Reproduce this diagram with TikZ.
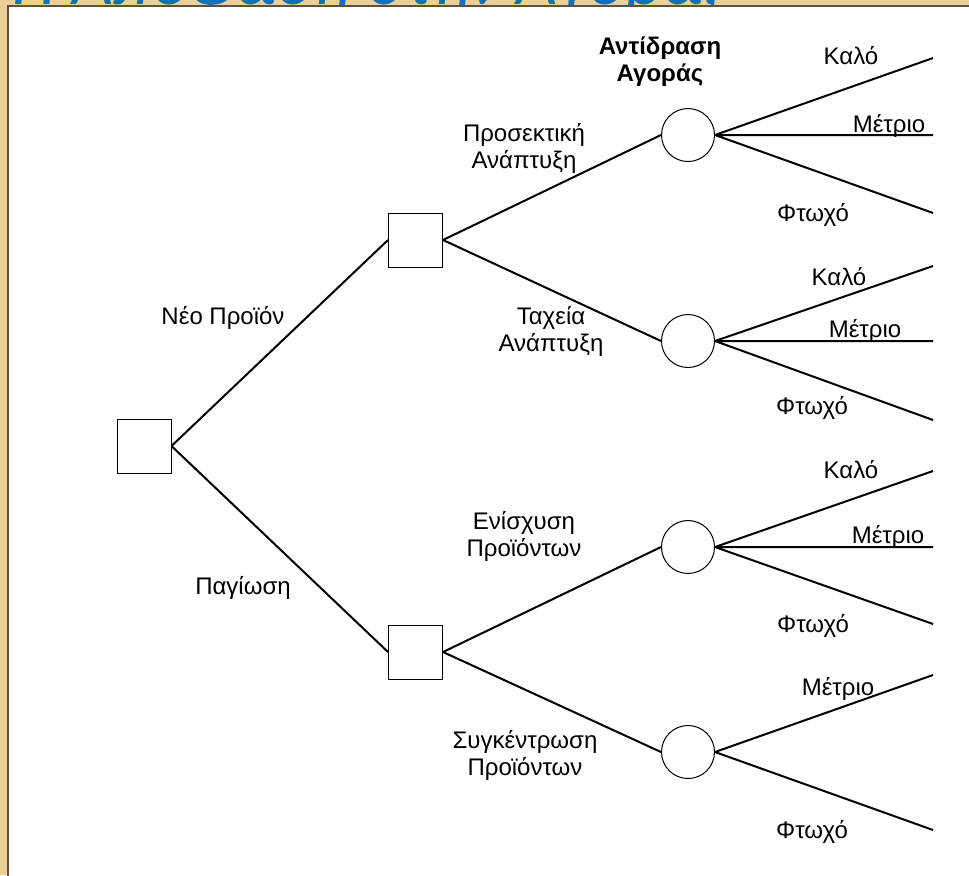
\documentclass[tikz,border=0pt]{standalone}
\usepackage{fontspec}
\setmainfont{Liberation Sans}
\newfontfamily\titlefont{Carlito}
\definecolor{parchment}{RGB}{234,207,152}
\definecolor{panelline}{RGB}{92,81,64}
\definecolor{titleblue}{RGB}{16,112,192}

\begin{document}
\begin{tikzpicture}[x=0.5pt,y=-0.5pt,
    decision/.style={draw,rectangle,minimum size=27pt,inner sep=0pt,line width=0.5pt},
    chance/.style={draw,circle,minimum size=26.5pt,inner sep=0pt,line width=0.5pt},
    branch/.style={line width=1pt},
    lbl/.style={inner sep=0pt,align=center,font=\fontsize{12}{13.5}\selectfont}]
\useasboundingbox (0,0) rectangle (969,875);
\clip (0,0) rectangle (969,875);
% slide background, title and white panel
\fill[parchment] (0,0) rectangle (969,875);
\node[anchor=base west,inner sep=0pt,text=titleblue,font=\titlefont\itshape\fontsize{35.5}{40}\selectfont] (title) at (12,4) {Η Απόφαση στην Αγορά;};
\draw[panelline,fill=white,line width=1pt] (8,6) rectangle (990,900);
% decision and chance nodes
\node[decision] (root) at (144,446) {};
\node[decision] (d1) at (415.5,240) {};
\node[decision] (d2) at (415.5,652) {};
\node[chance] (c1) at (688,135) {};
\node[chance] (c2) at (688,341) {};
\node[chance] (c3) at (688,547) {};
\node[chance] (c4) at (688,752) {};
% end points of the outcome branches
\coordinate (c1good) at (933,58);  \coordinate (c1avg) at (933,135); \coordinate (c1poor) at (933,213);
\coordinate (c2good) at (933,266); \coordinate (c2avg) at (933,341); \coordinate (c2poor) at (933,420);
\coordinate (c3good) at (933,471); \coordinate (c3avg) at (933,547); \coordinate (c3poor) at (933,624);
\coordinate (c4avg) at (933,675);  \coordinate (c4poor) at (933,830);
% branches
\draw[branch] (root.east) -- (d1.west) (root.east) -- (d2.west)
    (d1.east) -- (c1.west) (d1.east) -- (c2.west)
    (d2.east) -- (c3.west) (d2.east) -- (c4.west);
\draw[branch] (c1.east) -- (c1good) (c1.east) -- (c1avg) (c1.east) -- (c1poor)
    (c2.east) -- (c2good) (c2.east) -- (c2avg) (c2.east) -- (c2poor)
    (c3.east) -- (c3good) (c3.east) -- (c3avg) (c3.east) -- (c3poor)
    (c4.east) -- (c4avg) (c4.east) -- (c4poor);
% labels
\node[lbl,font=\bfseries\fontsize{12}{13.5}\selectfont] (market) at (660,62) {Αντίδραση\\Αγοράς};
\node[lbl] (lnew) at (223,318) {Νέο Προϊόν};
\node[lbl] (lhold) at (243,588) {Παγίωση};
\node[lbl] (lcare) at (524,148) {Προσεκτική\\Ανάπτυξη};
\node[lbl] (lfast) at (551,331) {Ταχεία\\Ανάπτυξη};
\node[lbl] (lboost) at (524,536) {Ενίσχυση\\Προϊόντων};
\node[lbl] (lfocus) at (525,755) {Συγκέντρωση\\Προϊόντων};
\node[lbl] (l1good) at (851,56) {Καλό};
\node[lbl] (l1avg) at (889,126) {Μέτριο};
\node[lbl] (l1poor) at (813,215) {Φτωχό};
\node[lbl] (l2good) at (839,277) {Καλό};
\node[lbl] (l2avg) at (865,331) {Μέτριο};
\node[lbl] (l2poor) at (812,408) {Φτωχό};
\node[lbl] (l3good) at (851,470) {Καλό};
\node[lbl] (l3avg) at (888,537) {Μέτριο};
\node[lbl] (l3poor) at (813,626) {Φτωχό};
\node[lbl] (l4avg) at (838,689) {Μέτριο};
\node[lbl] (l4poor) at (812,832) {Φτωχό};
\end{tikzpicture}
\end{document}
